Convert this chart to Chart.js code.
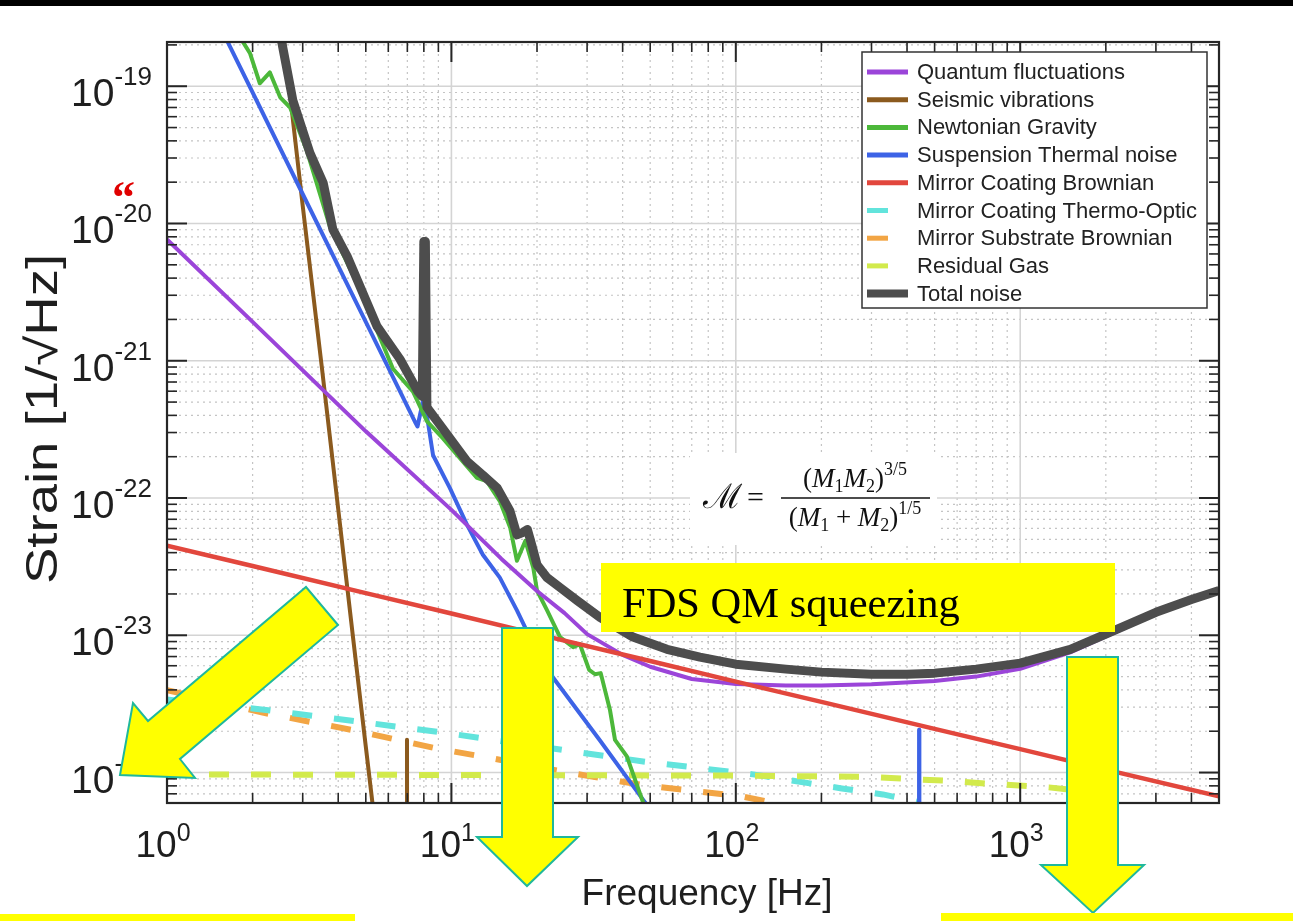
<!DOCTYPE html>
<html>
<head>
<meta charset="utf-8">
<script src="https://cdn.jsdelivr.net/npm/chart.js@4.4.0/dist/chart.umd.min.js"></script>
<style>
  html, body { margin: 0; padding: 0; background: #fff; }
  canvas { display: block; }
</style>
</head>
<body>
<canvas id="noiseChart" width="1293" height="921"></canvas>
<script>
// frequencies [Hz] and strain [1/sqrt(Hz)]
const quantumF = [1, 2, 5, 10, 15, 20, 25, 30, 40, 50, 70, 100, 150, 200, 300, 500, 700, 1000, 1500, 2000, 3000, 4000, 5000];
const quantumH = [7.65e-21, 1.92e-21, 3.06e-22, 8.2e-23, 3.6e-23, 2.1e-23, 1.45e-23, 1.02e-23, 7.2e-24, 5.9e-24, 4.8e-24, 4.41e-24, 4.3e-24, 4.3e-24, 4.4e-24, 4.65e-24, 5.0e-24, 5.7e-24, 7.5e-24, 9.8e-24, 1.43e-23, 1.78e-23, 2.08e-23];

const seismicF = [2.5, 3, 3.5, 4, 4.5, 5, 5.4, 6.95, 6.98, 7.01];
const seismicH = [3.7e-19, 1.35e-20, 9.1e-22, 8.3e-23, 1.0e-23, 1.55e-24, 4e-25, 1e-28, 1.73e-24, 1e-28];

const newtonF = [1.8, 1.96, 2.12, 2.3, 2.5, 2.71, 3.1, 3.74, 4.77, 6.23, 7.33, 8.21, 9.34, 12.3, 13.3, 14.8, 16.1, 17.0, 18.2, 19.4, 20, 21.7, 24.1, 26.8, 28.3, 30.5, 32, 33.5, 36.1, 37.6, 41.4, 46, 48];
const newtonH = [2.3e-19, 1.73e-19, 1.05e-19, 1.26e-19, 8.3e-20, 7.0e-20, 3.4e-20, 9.5e-21, 3.3e-21, 8.75e-22, 5.96e-22, 3.61e-22, 2.72e-22, 1.40e-22, 1.33e-22, 9.5e-23, 6.07e-23, 3.49e-23, 4.88e-23, 3.11e-23, 2.12e-23, 1.52e-23, 9.7e-24, 8.2e-24, 8.6e-24, 5.6e-24, 5.2e-24, 5.3e-24, 2.86e-24, 1.73e-24, 1.31e-24, 7.05e-25, 5.5e-25];

const suspF = [1.6, 3, 5, 7.5, 7.6, 7.95, 8.21, 8.62, 9.88, 11.35, 12.9, 14.8, 17.0, 19.4, 22.7, 33.3, 47.1, 60, 440, 441, 442];
const suspH = [2.3e-19, 1.64e-20, 1.92e-21, 3.49e-22, 3.32e-22, 5.13e-22, 3.93e-22, 2.05e-22, 1.18e-22, 6.37e-23, 3.86e-23, 2.63e-23, 1.52e-23, 8.6e-24, 4.97e-24, 1.71e-24, 6.37e-25, 3.27e-25, 1e-28, 2.05e-24, 1e-28];

const coatBrownF = [1, 2, 5, 10, 20, 50, 100, 200, 500, 1000, 2000, 5000];
const coatBrownH = [4.5e-23, 3.2e-23, 2.03e-23, 1.44e-23, 1.02e-23, 6.5e-24, 4.6e-24, 3.27e-24, 2.08e-24, 1.48e-24, 1.05e-24, 6.7e-25];

const thermoOpticF = [1, 2.23, 8.97, 24.1, 47.9, 115, 236, 329, 444];
const thermoOpticH = [3.4e-24, 2.86e-24, 1.98e-24, 1.47e-24, 1.2e-24, 9.7e-25, 7.66e-25, 6.93e-25, 6.07e-25];

const substrateF = [1, 2.19, 4.44, 8.97, 12.8, 25.7, 47.9, 105, 168];
const substrateH = [3.99e-24, 2.72e-24, 2.05e-24, 1.49e-24, 1.31e-24, 1.0e-24, 8.05e-25, 6.7e-25, 5.5e-25];

const gasF = [1, 100, 300, 440, 560, 840, 1260, 2000];
const gasH = [9.7e-25, 9.5e-25, 9.3e-25, 8.9e-25, 8.7e-25, 8.2e-25, 7.8e-25, 7.0e-25];

const totalF = [2.45, 2.77, 3.18, 3.54, 3.83, 4.3, 5.47, 6.59, 7.63, 7.9, 8.0, 8.1, 8.2, 8.41, 9.89, 11.35, 12.9, 14.5, 16.07, 17.0, 17.8, 18.5, 19.2, 20, 21.7, 24.1, 27.7, 33.3, 43.5, 57.3, 74.8, 100, 150, 200, 300, 400, 500, 700, 1000, 1500, 2000, 3000, 4000, 5000];
const totalH = [3.0e-19, 7.9e-20, 3.27e-20, 1.98e-20, 9.06e-21, 5.77e-21, 1.79e-21, 1.03e-21, 5.96e-22, 5.5e-22, 7.4e-21, 7.4e-21, 4.6e-22, 4.27e-22, 2.72e-22, 1.85e-22, 1.47e-22, 1.18e-22, 8.05e-23, 5.4e-23, 5.6e-23, 5.9e-23, 4.5e-23, 3.27e-23, 2.63e-23, 2.23e-23, 1.79e-23, 1.35e-23, 9.7e-24, 7.9e-24, 6.93e-24, 6.16e-24, 5.67e-24, 5.39e-24, 5.2e-24, 5.2e-24, 5.3e-24, 5.67e-24, 6.27e-24, 7.9e-24, 1.02e-23, 1.47e-23, 1.82e-23, 2.12e-23];

// axis decades shown as 10^n labels
const xTickExps = [0, 1, 2, 3];
const yTickExps = [-19, -20, -21, -22, -23, -24];

const SANS = '"Liberation Sans", Arial, sans-serif';
const SERIF = '"Liberation Serif", "Times New Roman", serif';

function pts(f, h) {
  return f.map((v, i) => ({ x: v, y: h[i] }));
}

function line(ctx, x1, y1, x2, y2) {
  ctx.beginPath();
  ctx.moveTo(x1, y1);
  ctx.lineTo(x2, y2);
  ctx.stroke();
}

function poly(ctx, p, fill, stroke) {
  ctx.beginPath();
  ctx.moveTo(p[0][0], p[0][1]);
  for (let i = 1; i < p.length; i++) ctx.lineTo(p[i][0], p[i][1]);
  ctx.closePath();
  ctx.fillStyle = fill;
  ctx.fill();
  ctx.strokeStyle = stroke;
  ctx.lineWidth = 2;
  ctx.stroke();
}

// minor positions 2..9 per decade inside [lo, hi]
function minors(lo, hi) {
  const out = [];
  for (let e = Math.floor(Math.log10(lo)); e <= Math.ceil(Math.log10(hi)); e++) {
    for (let k = 2; k <= 9; k++) {
      const v = k * Math.pow(10, e);
      if (v > lo && v < hi) out.push(v);
    }
  }
  return out;
}

function runWidth(ctx, segs) {
  let w = 0;
  for (const s of segs) { ctx.font = s[1]; w += ctx.measureText(s[0]).width; }
  return w;
}

function drawRun(ctx, segs, x, y) {
  let cx = x;
  for (const s of segs) {
    ctx.font = s[1];
    ctx.fillText(s[0], cx, y + (s[2] || 0));
    cx += ctx.measureText(s[0]).width;
  }
}

const matlabAxes = {
  id: 'matlabAxes',
  beforeDatasetsDraw(chart) {
    const { ctx, chartArea: a, scales: { x, y } } = chart;
    ctx.save();
    // dotted minor grid
    ctx.strokeStyle = '#c4c4c4';
    ctx.lineWidth = 1.2;
    ctx.setLineDash([2, 4]);
    for (const v of minors(x.min, x.max)) { const px = x.getPixelForValue(v); line(ctx, px, a.top, px, a.bottom); }
    for (const v of minors(y.min, y.max)) { const py = y.getPixelForValue(v); line(ctx, a.left, py, a.right, py); }
    // solid major grid
    ctx.setLineDash([]);
    ctx.strokeStyle = '#d4d4d4';
    ctx.lineWidth = 1.6;
    for (const e of xTickExps) { const px = x.getPixelForValue(Math.pow(10, e)); line(ctx, px, a.top, px, a.bottom); }
    for (const e of yTickExps) { const py = y.getPixelForValue(Math.pow(10, e)); line(ctx, a.left, py, a.right, py); }
    ctx.restore();
  },
  afterDatasetsDraw(chart) {
    const { ctx, chartArea: a, scales: { x, y } } = chart;
    ctx.save();
    ctx.setLineDash([]);

    // box and ticks on all four sides
    ctx.strokeStyle = '#262626';
    ctx.lineWidth = 1.6;
    for (const v of minors(x.min, x.max)) {
      const px = x.getPixelForValue(v);
      line(ctx, px, a.bottom, px, a.bottom - 10);
      line(ctx, px, a.top, px, a.top + 10);
    }
    for (const v of minors(y.min, y.max)) {
      const py = y.getPixelForValue(v);
      line(ctx, a.left, py, a.left + 10, py);
      line(ctx, a.right, py, a.right - 10, py);
    }
    ctx.lineWidth = 2;
    for (const e of xTickExps) {
      const px = x.getPixelForValue(Math.pow(10, e));
      line(ctx, px, a.bottom, px, a.bottom - 20);
      line(ctx, px, a.top, px, a.top + 20);
    }
    for (const e of yTickExps) {
      const py = y.getPixelForValue(Math.pow(10, e));
      line(ctx, a.left, py, a.left + 20, py);
      line(ctx, a.right, py, a.right - 20, py);
    }
    ctx.lineWidth = 2.2;
    ctx.strokeRect(a.left, a.top, a.right - a.left, a.bottom - a.top);

    // tick labels 10^n
    ctx.fillStyle = '#1e1e1e';
    ctx.textBaseline = 'alphabetic';
    ctx.textAlign = 'left';
    const baseFont = '39px ' + SANS, expFont = '26px ' + SANS;
    for (const e of yTickExps) {
      const py = y.getPixelForValue(Math.pow(10, e));
      ctx.font = expFont;
      const we = ctx.measureText(String(e)).width;
      ctx.fillText(String(e), 152 - we, py - 1);
      ctx.font = baseFont;
      const wb = ctx.measureText('10').width;
      ctx.fillText('10', 152 - we - wb, py + 20);
    }
    ctx.font = '37px ' + SANS;
    const xb = '37px ' + SANS, xe = '25px ' + SANS;
    for (const e of xTickExps) {
      const px = x.getPixelForValue(Math.pow(10, e));
      ctx.font = xe;
      const we = ctx.measureText(String(e)).width;
      ctx.font = xb;
      const wb = ctx.measureText('10').width;
      const sx = px - 4 - (wb + we) / 2;
      ctx.fillText('10', sx, 857);
      ctx.font = xe;
      ctx.fillText(String(e), sx + wb, 841);
    }

    // axis titles
    ctx.font = '37px ' + SANS;
    ctx.textAlign = 'center';
    ctx.fillText('Frequency [Hz]', 707, 905);
    ctx.save();
    ctx.translate(57, 419);
    ctx.rotate(-Math.PI / 2);
    ctx.scale(1.24, 1);
    ctx.font = '44px ' + SANS;
    ctx.fillText('Strain [1/\u221AHz]', 0, 0);
    ctx.restore();

    // legend
    ctx.fillStyle = '#fff';
    ctx.fillRect(862, 52, 345, 256);
    ctx.strokeStyle = '#333';
    ctx.lineWidth = 1.5;
    ctx.strokeRect(862, 52, 345, 256);
    ctx.textAlign = 'left';
    ctx.textBaseline = 'middle';
    ctx.font = '22px ' + SANS;
    chart.data.datasets.forEach((ds, i) => {
      const yy = 72 + i * 27.7;
      const dashed = ds.borderDash && ds.borderDash.length;
      ctx.strokeStyle = ds.borderColor;
      ctx.lineWidth = ds.label === 'Total noise' ? 8 : 5;
      line(ctx, 867, yy, dashed ? 888 : 908, yy);
      ctx.fillStyle = '#222';
      ctx.fillText(ds.label, 917, yy + 1);
    });

    // chirp mass formula on a white patch
    ctx.fillStyle = '#fff';
    ctx.fillRect(690, 453, 247, 92);
    ctx.fillStyle = '#111';
    ctx.textBaseline = 'alphabetic';
    ctx.textAlign = 'left';
    ctx.font = '34px "DejaVu Serif", serif';
    ctx.fillText('\u2133', 703, 508);
    ctx.font = '30px ' + SERIF;
    ctx.fillText('=', 747, 507);
    const R = '27px ' + SERIF, I = 'italic 27px ' + SERIF, S = '18px ' + SERIF;
    const num = [['(', R], ['M', I], ['1', S, 5], ['M', I], ['2', S, 5], [')', R], ['3/5', S, -12]];
    const den = [['(', R], ['M', I], ['1', S, 5], [' + ', R], ['M', I], ['2', S, 5], [')', R], ['1/5', S, -12]];
    drawRun(ctx, num, 855 - runWidth(ctx, num) / 2, 487);
    drawRun(ctx, den, 855 - runWidth(ctx, den) / 2, 526);
    ctx.strokeStyle = '#111';
    ctx.lineWidth = 1.5;
    line(ctx, 781, 498, 930, 498);

    // FDS label box
    ctx.fillStyle = '#ffff00';
    ctx.fillRect(601, 563, 514, 69);
    ctx.fillStyle = '#000';
    ctx.font = '42.5px ' + SERIF;
    ctx.fillText('FDS QM squeezing', 622, 617);

    // arrows
    const yel = '#ffff00', edge = '#1fb89c';
    poly(ctx, [[120, 775], [133, 703], [148, 721], [306, 587], [338, 625], [180, 759], [195, 778]], yel, edge);
    poly(ctx, [[502, 628], [553, 628], [553, 837], [578, 837], [527, 886], [477, 837], [502, 837]], yel, edge);
    poly(ctx, [[1067, 657], [1118, 657], [1118, 865], [1144, 865], [1093, 913], [1041, 865], [1067, 865]], yel, edge);

    // stray marks of the slide
    ctx.fillStyle = '#ffff00';
    ctx.fillRect(0, 914, 355, 7);
    ctx.fillRect(941, 913, 352, 8);
    ctx.fillStyle = '#000';
    ctx.fillRect(0, 0, 1293, 6);
    ctx.fillStyle = '#e00000';
    ctx.font = 'bold 46px ' + SERIF;
    ctx.fillText('\u201C', 112, 213);

    ctx.restore();
  }
};

const curves = [
  { label: 'Quantum fluctuations', f: quantumF, h: quantumH, color: '#9b45d9', width: 4, order: 2 },
  { label: 'Seismic vibrations', f: seismicF, h: seismicH, color: '#8b5a1e', width: 4, order: 5 },
  { label: 'Newtonian Gravity', f: newtonF, h: newtonH, color: '#4cb83a', width: 4, order: 3 },
  { label: 'Suspension Thermal noise', f: suspF, h: suspH, color: '#3d63e6', width: 4, order: 4 },
  { label: 'Mirror Coating Brownian', f: coatBrownF, h: coatBrownH, color: '#e2473d', width: 4.5, order: 1 },
  { label: 'Mirror Coating Thermo-Optic', f: thermoOpticF, h: thermoOpticH, color: '#62e4dc', width: 6, dash: [20, 22], order: 7 },
  { label: 'Mirror Substrate Brownian', f: substrateF, h: substrateH, color: '#f2a544', width: 6, dash: [20, 22], order: 8 },
  { label: 'Residual Gas', f: gasF, h: gasH, color: '#d2ea4c', width: 6, dash: [20, 22], order: 6 },
  { label: 'Total noise', f: totalF, h: totalH, color: '#4d4d4d', width: 9, order: 0 }
];

new Chart(document.getElementById('noiseChart'), {
  type: 'line',
  data: {
    datasets: curves.map(c => ({
      label: c.label,
      data: pts(c.f, c.h),
      borderColor: c.color,
      borderWidth: c.width,
      borderDash: c.dash || [],
      borderJoinStyle: 'round',
      order: c.order,
      pointRadius: 0,
      tension: 0,
      fill: false,
      clip: 0
    }))
  },
  options: {
    responsive: false,
    devicePixelRatio: 1,
    animation: false,
    layout: { padding: { top: 42, right: 74, left: 0, bottom: 0 } },
    plugins: { legend: { display: false }, tooltip: { enabled: false } },
    scales: {
      x: {
        type: 'logarithmic',
        min: 1,
        max: 5000,
        ticks: { display: false },
        grid: { display: false },
        border: { display: false },
        afterFit(scale) { scale.height = 118; }
      },
      y: {
        type: 'logarithmic',
        min: 6.4e-25,
        max: 2.1e-19,
        ticks: { display: false },
        grid: { display: false },
        border: { display: false },
        afterFit(scale) { scale.width = 167; }
      }
    }
  },
  plugins: [matlabAxes]
});
</script>
</body>
</html>
